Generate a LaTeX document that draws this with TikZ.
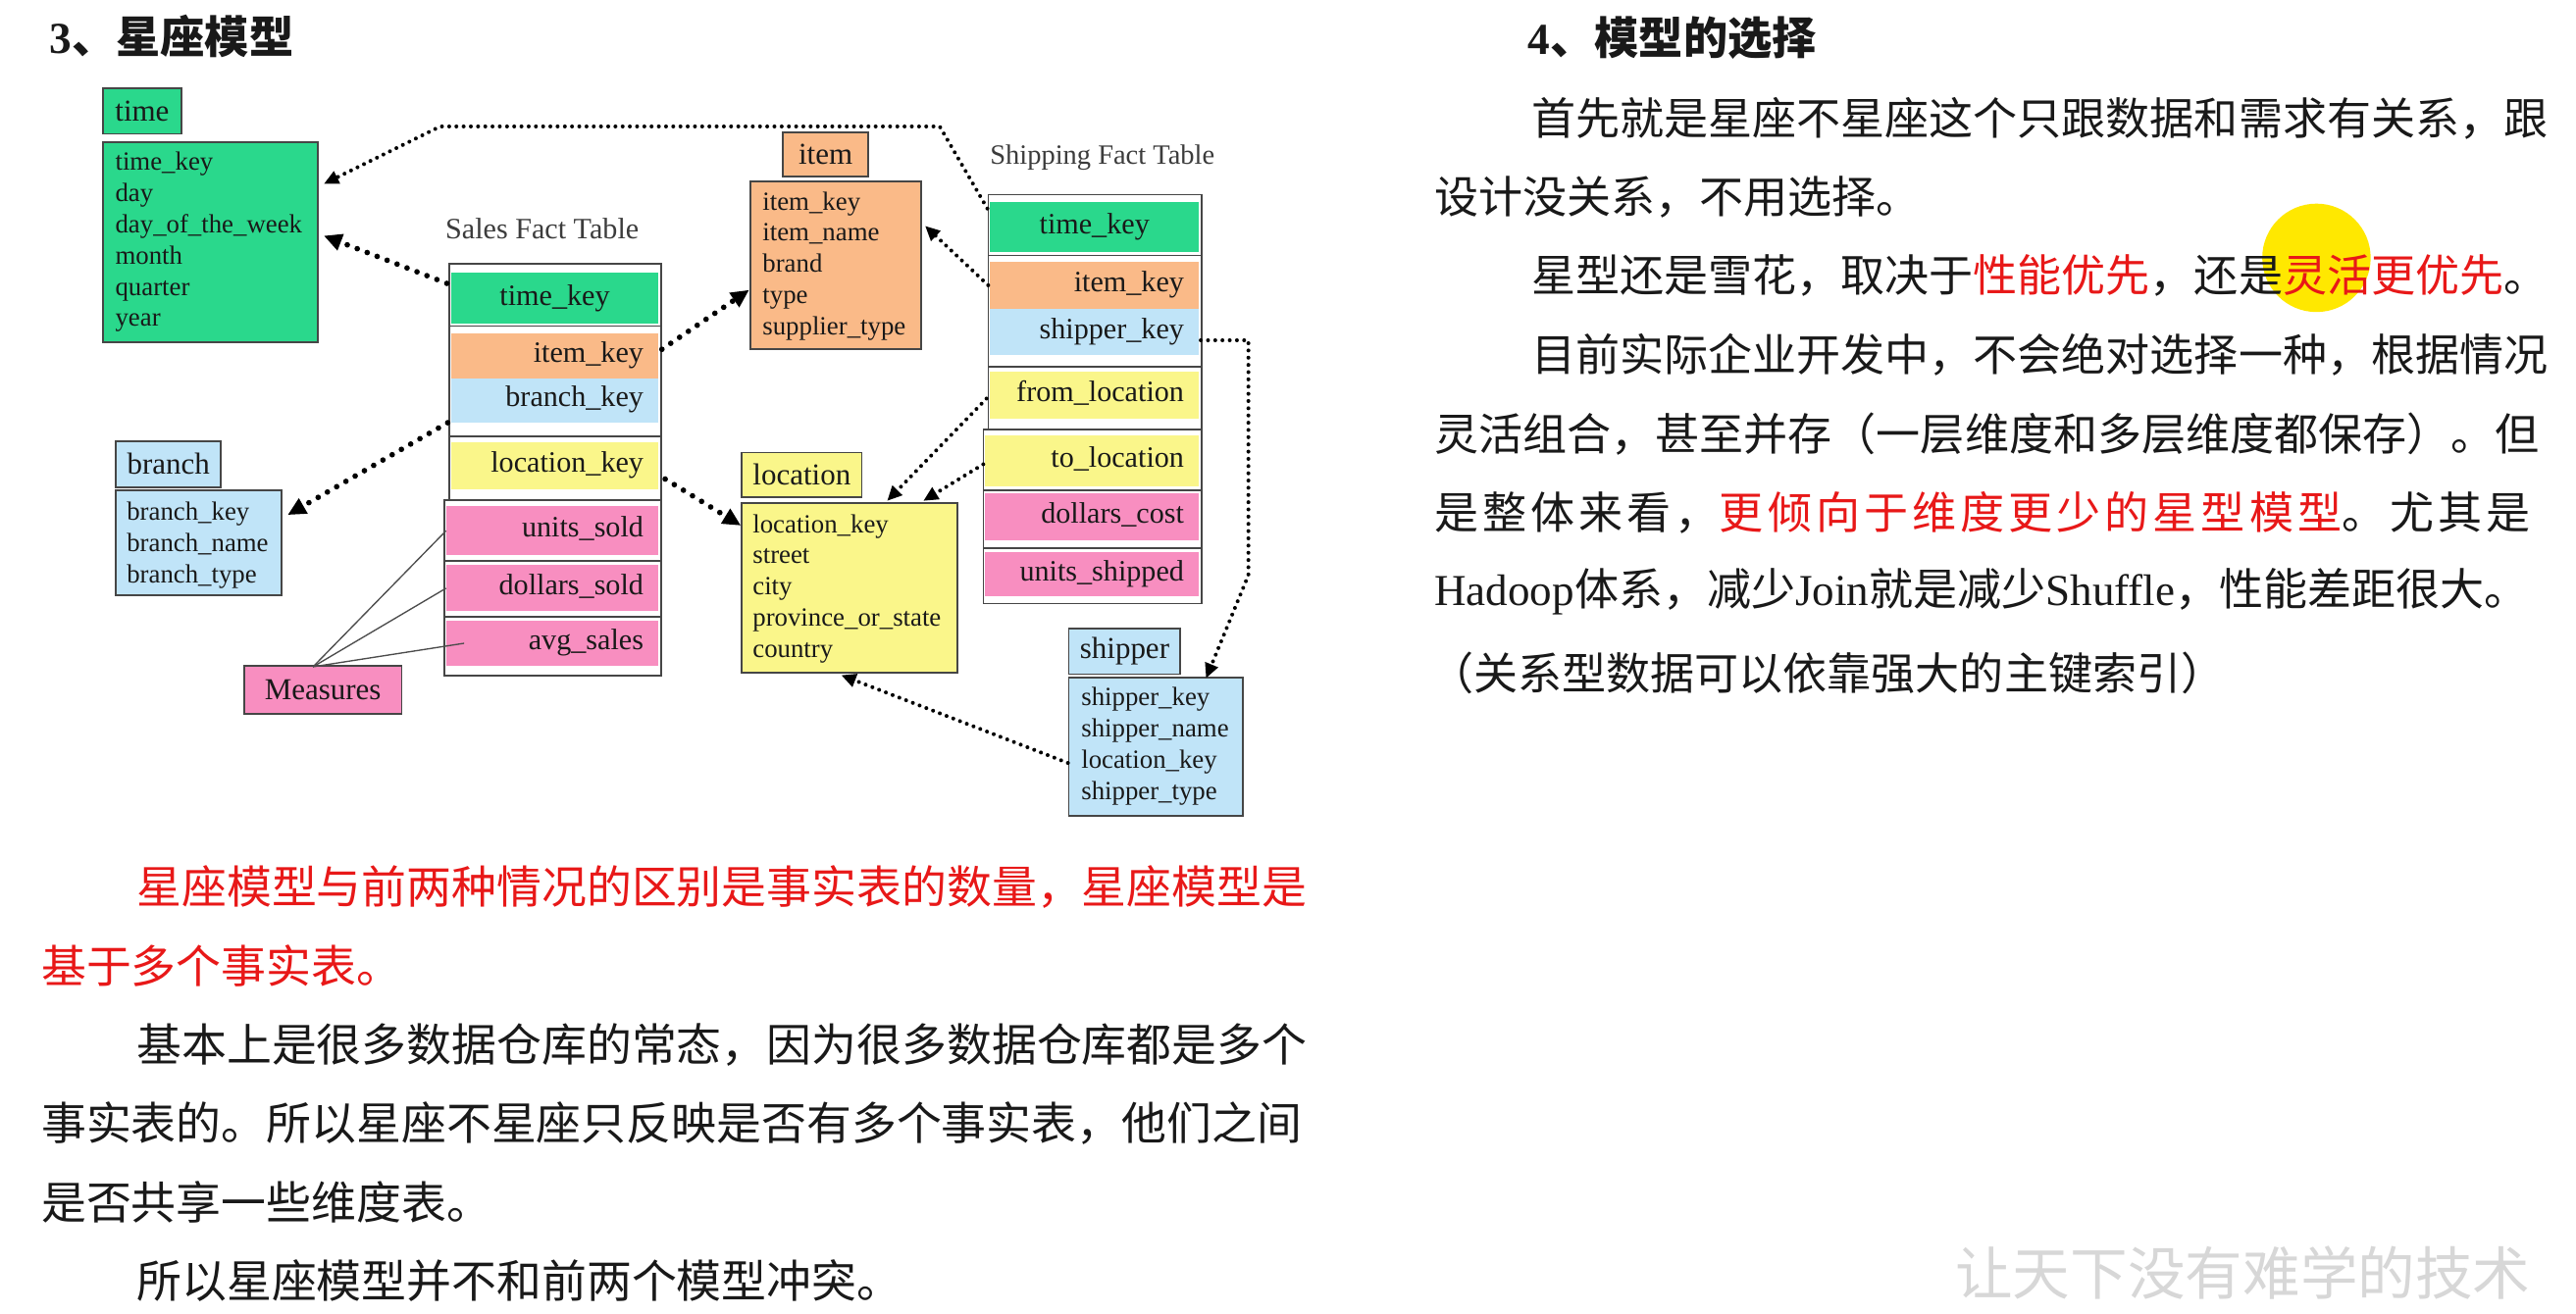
\documentclass[tikz,border=0pt]{standalone}
\usepackage{fontspec}
\setmainfont{Liberation Serif}
\newfontfamily\cjk{Noto Sans CJK SC}
\newfontfamily\lat{Liberation Serif}
\usetikzlibrary{arrows.meta,calc}
\definecolor{tgreen}{RGB}{42,216,140}
\definecolor{torange}{RGB}{250,186,136}
\definecolor{tblue}{RGB}{192,228,248}
\definecolor{tyellow}{RGB}{250,246,138}
\definecolor{tpink}{RGB}{248,142,192}
\definecolor{framecol}{RGB}{70,70,70}
\definecolor{txt}{RGB}{25,25,25}
\definecolor{redtxt}{RGB}{232,24,24}
\definecolor{hl}{RGB}{255,232,0}
\definecolor{wm}{RGB}{215,215,215}
\definecolor{labgray}{RGB}{60,60,60}
\newcommand{\rowfont}{\fontsize{18}{20}\selectfont}
\newcommand{\dimfont}{\fontsize{16}{19}\selectfont}
\newcommand{\hdrfont}{\fontsize{18.5}{20}\selectfont}
\newcommand{\red}[1]{\textcolor{redtxt}{#1}}
\tikzset{
 frm/.style={draw=framecol, line width=1.1pt, fill=white, anchor=north west, inner sep=0pt},
 rowc/.style={anchor=north west, inner sep=0pt, font=\rowfont, text=txt, text height=12pt, text depth=4pt},
 rowr/.style={anchor=north west, inner xsep=9pt, inner ysep=0pt, font=\rowfont, text=txt, align=right, text height=12pt, text depth=4pt},
 dimbox/.style={draw=framecol, line width=1.1pt, anchor=north west, inner sep=0pt},
 dimtxt/.style={anchor=north west, inner sep=0pt, font=\dimfont, align=left, text=txt},
 hdr/.style={draw=framecol, line width=1.1pt, anchor=north west, inner sep=0pt, font=\hdrfont, text=txt},
 thickdot/.style={line width=3.4pt, dash pattern=on 0pt off 6.5pt, line cap=round, -{Triangle[length=11pt,width=10pt]}},
 thindot/.style={line width=2.4pt, dash pattern=on 0pt off 4.4pt, line cap=round, -{Triangle[length=9pt,width=8pt]}},
 measline/.style={draw=black!70, line width=0.8pt},
 para/.style={anchor=west, inner sep=0pt, font=\cjk\fontsize{26.9}{30}\selectfont, text=txt},
 paral/.style={anchor=west, inner sep=0pt, font=\cjk\fontsize{27.4}{30}\selectfont, text=txt},
}
\begin{document}
\begin{tikzpicture}[x=1pt,y=-1pt]
\useasboundingbox (0,0) rectangle (1568,800);
\fill[white] (0,0) rectangle (1568,800);

% ---------- titles ----------
\node[anchor=west, inner sep=0pt, text=txt] (t3) at (30,22) {\fontsize{27}{30}\selectfont{\lat\bfseries 3}{\cjk\bfseries 、星座模型}};
\node[anchor=west, inner sep=0pt, text=txt] (t4) at (930,23) {\fontsize{27}{30}\selectfont{\lat\bfseries 4}{\cjk\bfseries 、模型的选择}};

% ---------- time dimension ----------
\node[hdr, fill=tgreen, minimum width=48, minimum height=28] (timeH) at (62,53) {time};
\node[dimbox, fill=tgreen, minimum width=131, minimum height=122] (timeB) at (62,86) {};
\node[dimtxt] (timeT) at ($(timeB.north west)+(8,6.5)$) {time\_key\\day\\day\_of\_the\_week\\month\\quarter\\year};

% ---------- item dimension ----------
\node[hdr, fill=torange, minimum width=52, minimum height=27] (itemH) at (476,80) {item};
\node[dimbox, fill=torange, minimum width=104, minimum height=102] (itemB) at (456,110) {};
\node[dimtxt] (itemT) at ($(itemB.north west)+(8,6.5)$) {item\_key\\item\_name\\brand\\type\\supplier\_type};

% ---------- branch dimension ----------
\node[hdr, fill=tblue, minimum width=64, minimum height=28] (branchH) at (70,268) {branch};
\node[dimbox, fill=tblue, minimum width=101, minimum height=64] (branchB) at (70,298) {};
\node[dimtxt] (branchT) at ($(branchB.north west)+(7,7.5)$) {branch\_key\\branch\_name\\branch\_type};

% ---------- location dimension ----------
\node[hdr, fill=tyellow, minimum width=73, minimum height=27] (locH) at (451,275) {location};
\node[dimbox, fill=tyellow, minimum width=131, minimum height=103] (locB) at (451,306) {};
\node[dimtxt] (locT) at ($(locB.north west)+(7,7)$) {location\_key\\street\\city\\province\_or\_state\\country};

% ---------- shipper dimension ----------
\node[hdr, fill=tblue, minimum width=68, minimum height=28] (shipH) at (650,382) {shipper};
\node[dimbox, fill=tblue, minimum width=106, minimum height=84] (shipB) at (650,412) {};
\node[dimtxt] (shipT) at ($(shipB.north west)+(8,6.5)$) {shipper\_key\\shipper\_name\\location\_key\\shipper\_type};

% ---------- measures ----------
\node[hdr, fill=tpink, minimum width=96, minimum height=29] (meas) at (148,405) {Measures};

% ---------- sales fact table ----------
\node[font=\fontsize{18}{20}\selectfont, text=labgray, inner sep=0pt] (salesL) at (330,139) {Sales Fact Table};
\node[frm, minimum width=129, minimum height=38] (sF1) at (273,160) {};
\node[frm, minimum width=129, minimum height=67] (sF2) at (273,198) {};
\node[frm, minimum width=129, minimum height=39] (sF3) at (273,265) {};
\node[frm, minimum width=132, minimum height=37] (sF4) at (270,304) {};
\node[frm, minimum width=132, minimum height=34] (sF5) at (270,341) {};
\node[frm, minimum width=132, minimum height=36] (sF6) at (270,375) {};
\node[rowc, fill=tgreen, minimum width=126, minimum height=31] (sTime) at (274.5,166) {time\_key};
\node[rowr, fill=torange, text width=108, minimum height=27] (sItem) at (274.5,203) {item\_key};
\node[rowr, fill=tblue, text width=108, minimum height=27] (sBranch) at (274.5,230) {branch\_key};
\node[rowr, fill=tyellow, text width=108, minimum height=29] (sLoc) at (274.5,269) {location\_key};
\node[rowr, fill=tpink, text width=111, minimum height=30] (sUnits) at (271.5,308) {units\_sold};
\node[rowr, fill=tpink, text width=111, minimum height=28] (sDollars) at (271.5,344) {dollars\_sold};
\node[rowr, fill=tpink, text width=111, minimum height=27] (sAvg) at (271.5,378) {avg\_sales};

% ---------- shipping fact table ----------
\node[font=\fontsize{17}{20}\selectfont, text=labgray, inner sep=0pt] (shipL) at (671,96) {Shipping Fact Table};
\node[frm, minimum width=130, minimum height=37] (pF1) at (601,118) {};
\node[frm, minimum width=130, minimum height=68] (pF2) at (601,155) {};
\node[frm, minimum width=130, minimum height=38] (pF3) at (601,223) {};
\node[frm, minimum width=133, minimum height=37] (pF4) at (598,261) {};
\node[frm, minimum width=133, minimum height=35] (pF5) at (598,298) {};
\node[frm, minimum width=133, minimum height=34] (pF6) at (598,333) {};
\node[rowc, fill=tgreen, minimum width=127, minimum height=30] (pTime) at (602.5,123) {time\_key};
\node[rowr, fill=torange, text width=109, minimum height=29] (pItem) at (602.5,159) {item\_key};
\node[rowr, fill=tblue, text width=109, minimum height=28] (pShip) at (602.5,188) {shipper\_key};
\node[rowr, fill=tyellow, text width=109, minimum height=29] (pFrom) at (602.5,226) {from\_location};
\node[rowr, fill=tyellow, text width=112, minimum height=31] (pTo) at (599.5,265) {to\_location};
\node[rowr, fill=tpink, text width=112, minimum height=29] (pCost) at (599.5,300) {dollars\_cost};
\node[rowr, fill=tpink, text width=112, minimum height=27] (pUnits) at (599.5,336) {units\_shipped};

% ---------- measure lines ----------
\draw[measline] ($(meas.north)+(-6,1)$) -- (sUnits.west);
\draw[measline] ($(meas.north)+(-6,1)$) -- (sDollars.west);
\draw[measline] ($(meas.north)+(-6,1)$) -- ($(sAvg.west)+(11,0)$);

% ---------- connectors ----------
\draw[thickdot] ($(sF1.west)+(-1,-7)$) -- ($(timeB.east)+(3,-4)$);
\draw[thickdot] ($(sItem.east)+(2,-4)$) -- ($(itemB.west)+(0,15)$);
\draw[thickdot] ($(sBranch.south west)+(-2,0)$) -- ($(branchB.east)+(3,-17)$);
\draw[thickdot] ($(sLoc.east)+(4,8)$) -- ($(locB.north west)+(0,14)$);

\draw[thindot] ($(pF1.north west)+(0,9)$) -- (572,77) -- (268,77) -- ($(timeB.north east)+(3,26)$);
\draw[thindot] ($(pItem.west)+(-1,0)$) -- ($(itemB.east)+(2,-24)$);
\draw[thindot] ($(pFrom.west)+(-2,2)$) -- ($(locB.north west)+(89,-1)$);
\draw[thindot] ($(pTo.west)+(-1,2)$) -- ($(locB.north west)+(111,-1)$);
\draw[thindot] ($(pShip.east)+(1,5)$) -- ++(29,0) -- ++(0,143) -- ($(shipB.north east)+(-23,1)$);
\draw[thindot] ($(shipB.west)+(0,10)$) -- ($(locB.south)+(-5,1)$);

% ---------- right text ----------
\fill[hl] (1410,157) circle (33);
\node[para] (r1) at (932,72) {首先就是星座不星座这个只跟数据和需求有关系，跟};
\node[para] (r2) at (873,120) {设计没关系，不用选择。};
\node[para] (r3) at (932,168) {星型还是雪花，取决于\red{性能优先}，还是\red{灵活更优先}。};
\node[para] (r4) at (932,216) {目前实际企业开发中，不会绝对选择一种，根据情况};
\node[para] (r5) at (873,264) {灵活组合，甚至并存（一层维度和多层维度都保存）。但};
\node[para] (r6) at (873,312) {\addfontfeatures{LetterSpace=9}是整体来看，\red{更倾向于维度更少的星型模型}。尤其是};
\node[para] (r7) at (873,360) {{\lat Hadoop}体系，减少{\lat Join}就是减少{\lat Shuffle}，性能差距很大。};
\node[para] (r8) at (870,410) {（关系型数据可以依靠强大的主键索引）};

% ---------- left text ----------
\node[paral] (l1) at (83,540) {\red{星座模型与前两种情况的区别是事实表的数量，星座模型是}};
\node[paral] (l2) at (25,588) {\red{基于多个事实表。}};
\node[paral] (l3) at (83,636) {基本上是很多数据仓库的常态，因为很多数据仓库都是多个};
\node[paral] (l4) at (25,684) {事实表的。所以星座不星座只反映是否有多个事实表，他们之间};
\node[paral] (l5) at (25,732) {是否共享一些维度表。};
\node[paral] (l6) at (83,780) {所以星座模型并不和前两个模型冲突。};

% ---------- watermark ----------
\node[anchor=west, inner sep=0pt, text=wm, font=\cjk\fontsize{35}{38}\selectfont] (wmk) at (1190,775) {让天下没有难学的技术};
\end{tikzpicture}
\end{document}
